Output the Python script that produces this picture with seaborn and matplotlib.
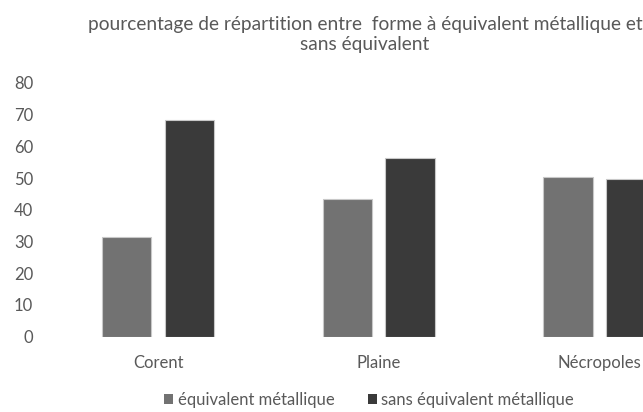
import matplotlib
matplotlib.use("Agg")
import matplotlib.pyplot as plt
import seaborn as sns
import pandas as pd

categories = ["Corent", "Plaine", "Nécropoles"]
series_names = ["équivalent métallique", "sans équivalent métallique"]
equivalent = [31.5, 43.5, 50.3]
sans_equivalent = [68.2, 56.5, 49.7]
y_ticks = [0, 10, 20, 30, 40, 50, 60, 70, 80]
title_lines = ["pourcentage de répartition entre  forme à équivalent métallique et",
               "sans équivalent"]

colors = ["#727272", "#3a3a3a"]
text_color = "#595959"

df = pd.DataFrame({
    "site": categories * 2,
    "serie": [series_names[0]] * 3 + [series_names[1]] * 3,
    "valeur": equivalent + sans_equivalent,
})

sns.set_theme(style="white")
plt.rcParams["font.family"] = ["Lato", "DejaVu Sans"]

fig = plt.figure(figsize=(6.43, 4.12), dpi=100)
# plot area runs past the right edge of the canvas
ax = fig.add_axes([47.7 / 643, 1 - 336.7 / 412, 662 / 643, 253.7 / 412])

sns.barplot(data=df, x="site", y="valeur", hue="serie", order=categories,
            hue_order=series_names, palette=colors, width=0.566, gap=0.21,
            edgecolor="#c8c8c8", linewidth=0.8, ax=ax, legend=False)

ax.set_ylim(0, 80)
ax.set_yticks(y_ticks)
ax.set_yticklabels([str(t) for t in y_ticks])
ax.set_xlim(-0.5, 2.5)
ax.set_xlabel("")
ax.set_ylabel("")
for s in ax.spines.values():
    s.set_visible(False)
ax.tick_params(axis="y", length=0, pad=10.5, labelsize=12, labelcolor=text_color)
ax.tick_params(axis="x", length=0, pad=13, labelsize=12, labelcolor=text_color)

for i, line in enumerate(title_lines):
    fig.text(365 / 643, 1 - (30 + 20 * i) / 412, line, ha="center", va="baseline",
             fontsize=13.8, color=text_color)

handles = [plt.Rectangle((0, 0), 1, 1, facecolor=c, edgecolor="none") for c in colors]
leg = fig.legend(handles, series_names, loc="center", ncol=2,
                 bbox_to_anchor=(369 / 643, 1 - 400 / 412), frameon=False,
                 fontsize=12, handlelength=0.55, handleheight=0.55,
                 handletextpad=0.25, columnspacing=2.0, borderpad=0.1)
for t in leg.get_texts():
    t.set_color(text_color)

fig.savefig("out.png", dpi=100)
